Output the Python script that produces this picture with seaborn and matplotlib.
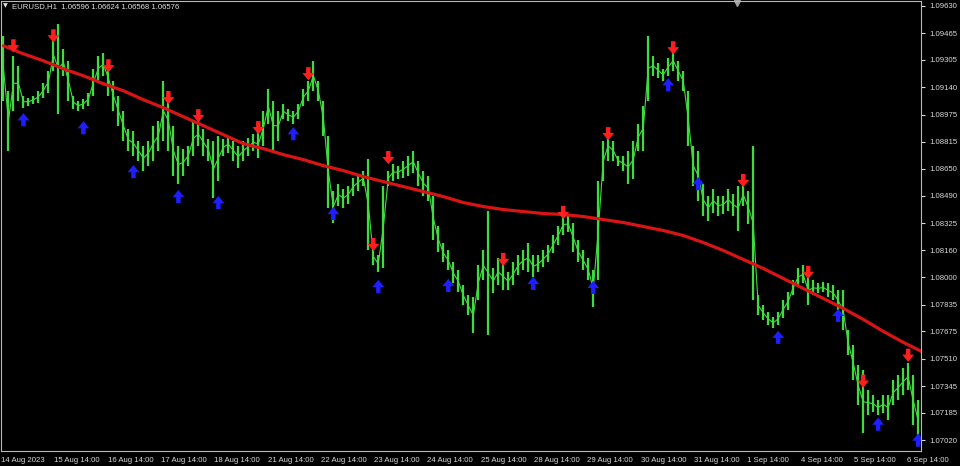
import numpy as np
import pandas as pd
import seaborn as sns
import matplotlib
matplotlib.use('Agg')
import matplotlib.pyplot as plt
from matplotlib.path import Path

# chart header
symbol_text = 'EURUSD,H1  1.06596 1.06624 1.06568 1.06576'

# bar highs / lows (one bar every ~2.25 h)
bar_high = [
    1.09450, 1.09120, 1.09330, 1.09270, 1.09090, 1.09078, 1.09090, 1.09120, 1.09168, 1.09240,
    1.09432, 1.09522, 1.09372, 1.09300, 1.09090, 1.09060, 1.09072, 1.09108, 1.09252, 1.09330,
    1.09348, 1.09300, 1.09180, 1.09090, 1.09000, 1.08892, 1.08880, 1.08820, 1.08790, 1.08820,
    1.08910, 1.08940, 1.09180, 1.09120, 1.08910, 1.08790, 1.08772, 1.08790, 1.08940, 1.08928,
    1.08892, 1.08832, 1.08820, 1.08850, 1.08832, 1.08850, 1.08820, 1.08790, 1.08820, 1.08838,
    1.08862, 1.08880, 1.09000, 1.09132, 1.09060, 1.09000, 1.09042, 1.09012, 1.09000, 1.09042,
    1.09132, 1.09180, 1.09300, 1.09180, 1.09060, 1.08850, 1.08520, 1.08562, 1.08532, 1.08550,
    1.08598, 1.08622, 1.08640, 1.08712, 1.08178, 1.08130, 1.08550, 1.08640, 1.08682, 1.08670,
    1.08700, 1.08730, 1.08760, 1.08700, 1.08640, 1.08610, 1.08490, 1.08310, 1.08202, 1.08160,
    1.08088, 1.08040, 1.07950, 1.07890, 1.07878, 1.08070, 1.08160, 1.08400, 1.08052, 1.08112,
    1.08088, 1.08028, 1.08088, 1.08130, 1.08160, 1.08202, 1.08130, 1.08130, 1.08160, 1.08190,
    1.08250, 1.08310, 1.08382, 1.08370, 1.08328, 1.08220, 1.08160, 1.08112, 1.08040, 1.08580,
    1.08820, 1.08880, 1.08820, 1.08730, 1.08730, 1.08760, 1.08820, 1.08922, 1.09030, 1.09450,
    1.09330, 1.09288, 1.09252, 1.09318, 1.09360, 1.09300, 1.09240, 1.09120, 1.08790, 1.08760,
    1.08562, 1.08490, 1.08532, 1.08490, 1.08490, 1.08532, 1.08502, 1.08550, 1.08562, 1.08520,
    1.08790, 1.07890, 1.07830, 1.07788, 1.07758, 1.07788, 1.07860, 1.07908, 1.07980, 1.08052,
    1.08070, 1.08010, 1.07980, 1.07962, 1.07968, 1.07962, 1.07950, 1.07920, 1.07920, 1.07680,
    1.07590, 1.07470, 1.07440, 1.07320, 1.07290, 1.07260, 1.07290, 1.07290, 1.07380, 1.07410,
    1.07452, 1.07482, 1.07410, 1.07260,
]
bar_low = [
    1.09060, 1.08760, 1.09000, 1.09060, 1.09018, 1.09030, 1.09042, 1.09048, 1.09078, 1.09108,
    1.09240, 1.08982, 1.09210, 1.09060, 1.09012, 1.09000, 1.09012, 1.09030, 1.09090, 1.09180,
    1.09210, 1.09090, 1.09000, 1.08910, 1.08820, 1.08760, 1.08730, 1.08700, 1.08640, 1.08670,
    1.08700, 1.08760, 1.08820, 1.08760, 1.08610, 1.08562, 1.08610, 1.08670, 1.08730, 1.08790,
    1.08730, 1.08700, 1.08478, 1.08580, 1.08730, 1.08748, 1.08700, 1.08658, 1.08700, 1.08730,
    1.08760, 1.08718, 1.08790, 1.08922, 1.08760, 1.08820, 1.08952, 1.08940, 1.08922, 1.08952,
    1.09030, 1.09060, 1.09120, 1.09060, 1.08850, 1.08418, 1.08328, 1.08430, 1.08418, 1.08442,
    1.08490, 1.08520, 1.08550, 1.08160, 1.08070, 1.08028, 1.08052, 1.08550, 1.08580, 1.08592,
    1.08598, 1.08610, 1.08628, 1.08550, 1.08490, 1.08460, 1.08220, 1.08148, 1.08088, 1.08040,
    1.07962, 1.07908, 1.07830, 1.07770, 1.07662, 1.07860, 1.07980, 1.07650, 1.07902, 1.07950,
    1.07920, 1.07920, 1.07950, 1.08010, 1.08040, 1.08028, 1.07998, 1.08028, 1.08058, 1.08088,
    1.08142, 1.08190, 1.08250, 1.08268, 1.08148, 1.08088, 1.08040, 1.07980, 1.07818, 1.07980,
    1.08580, 1.08700, 1.08700, 1.08670, 1.08640, 1.08562, 1.08592, 1.08760, 1.08760, 1.09060,
    1.09210, 1.09198, 1.09180, 1.09210, 1.09240, 1.09180, 1.09120, 1.08790, 1.08550, 1.08460,
    1.08370, 1.08340, 1.08388, 1.08370, 1.08382, 1.08400, 1.08370, 1.08280, 1.08430, 1.08322,
    1.07860, 1.07770, 1.07740, 1.07710, 1.07692, 1.07710, 1.07752, 1.07800, 1.07890, 1.07950,
    1.07962, 1.07830, 1.07890, 1.07902, 1.07908, 1.07878, 1.07860, 1.07800, 1.07680, 1.07530,
    1.07380, 1.07230, 1.07062, 1.07170, 1.07188, 1.07170, 1.07182, 1.07140, 1.07230, 1.07260,
    1.07290, 1.07320, 1.07110, 1.07020,
]

# moving average, one value every 4th bar
ma_values = [
    1.09390, 1.09342, 1.09300, 1.09252, 1.09210, 1.09162, 1.09120, 1.09066, 1.09018, 1.08964,
    1.08910, 1.08856, 1.08802, 1.08772, 1.08736, 1.08706, 1.08670, 1.08640, 1.08604, 1.08574,
    1.08544, 1.08514, 1.08484, 1.08448, 1.08424, 1.08406, 1.08394, 1.08382, 1.08376, 1.08364,
    1.08346, 1.08328, 1.08304, 1.08280, 1.08250, 1.08208, 1.08160, 1.08106, 1.08052, 1.07992,
    1.07932, 1.07872, 1.07812, 1.07746, 1.07674, 1.07608, 1.07548,
]

# signal arrows
sell_bars = [2, 10, 21, 33, 39, 51, 61, 74, 77, 100, 112, 121, 134, 148, 161, 172, 181]
sell_price = [1.09390, 1.09450, 1.09270, 1.09078, 1.08970, 1.08898, 1.09222, 1.08196, 1.08718,
              1.08106, 1.08388, 1.08862, 1.09378, 1.08580, 1.08028, 1.07374, 1.07530]
buy_bars = [4, 16, 26, 35, 43, 58, 66, 75, 89, 106, 118, 133, 139, 155, 167, 175, 183]
buy_price = [1.08946, 1.08898, 1.08634, 1.08484, 1.08448, 1.08862, 1.08382, 1.07944, 1.07950,
             1.07962, 1.07938, 1.09156, 1.08562, 1.07638, 1.07770, 1.07116, 1.07020]

date_labels = ['14 Aug 2023', '15 Aug 14:00', '16 Aug 14:00', '17 Aug 14:00', '18 Aug 14:00',
               '21 Aug 14:00', '22 Aug 14:00', '23 Aug 14:00', '24 Aug 14:00', '25 Aug 14:00',
               '28 Aug 14:00', '29 Aug 14:00', '30 Aug 14:00', '31 Aug 14:00', '1 Sep 14:00',
               '4 Sep 14:00', '5 Sep 14:00', '6 Sep 14:00']
price_ticks = ['1.09630', '1.09465', '1.09305', '1.09140', '1.08975', '1.08815', '1.08650',
               '1.08490', '1.08325', '1.08160', '1.08000', '1.07835', '1.07675', '1.07510',
               '1.07345', '1.07185', '1.07020']

bar_step = 2.25   # hours per drawn bar
label_step = 24   # hours between date labels

sns.set_theme(style='dark', rc={'axes.facecolor': 'black', 'figure.facecolor': 'black',
                                'axes.edgecolor': '#b8b8b8', 'text.color': '#d8d8d8',
                                'xtick.color': '#d8d8d8', 'ytick.color': '#d8d8d8'})
plt.rcParams['font.family'] = ['Liberation Sans', 'DejaVu Sans']

bars = pd.DataFrame({'high': bar_high, 'low': bar_low})
bars['t'] = np.arange(len(bars)) * bar_step + bar_step / 2
bars['mid'] = (bars['high'] + bars['low']) / 2

ma = pd.DataFrame({'value': ma_values})
ma['t'] = bars['t'].iloc[0] + np.arange(len(ma)) * 4 * bar_step

sells = pd.DataFrame({'t': bars['t'].iloc[sell_bars].values, 'price': sell_price})
buys = pd.DataFrame({'t': bars['t'].iloc[buy_bars].values, 'price': buy_price})

# block arrow markers
down_arrow = Path([(-0.17, 0.5), (0.17, 0.5), (0.17, 0.05), (0.45, 0.05), (0, -0.5),
                   (-0.45, 0.05), (-0.17, 0.05), (-0.17, 0.5)], closed=True)
up_arrow = Path([(-0.17, -0.5), (0.17, -0.5), (0.17, -0.05), (0.45, -0.05), (0, 0.5),
                 (-0.45, -0.05), (-0.17, -0.05), (-0.17, -0.5)], closed=True)

fig = plt.figure(figsize=(9.6, 4.66), dpi=100)
ax = fig.add_axes([0.001, 0.032, 0.958, 0.966])

green = '#3fdc3f'
ax.vlines(bars['t'], bars['low'], bars['high'], color=green, lw=1.6, zorder=2)
ax.plot(bars['t'], bars['mid'], color=green, lw=0.8, zorder=2)

sns.lineplot(data=ma, x='t', y='value', color='#d81414', lw=2.3, ax=ax, zorder=3)
sns.scatterplot(data=sells, x='t', y='price', marker=down_arrow, s=90, color='#ff1e1e',
                edgecolor='none', ax=ax, zorder=4)
sns.scatterplot(data=buys, x='t', y='price', marker=up_arrow, s=90, color='#1e1eff',
                edgecolor='none', ax=ax, zorder=4)

ax.set_xlim(0, 414)
ax.set_ylim(1.06954, 1.09660)
ax.set_xlabel('')
ax.set_ylabel('')

ax.set_xticks(np.arange(len(date_labels)) * label_step)
ax.set_xticklabels(date_labels, fontsize=5.6, ha='left')
ax.yaxis.tick_right()
ax.set_yticks([float(v) for v in price_ticks])
ax.set_yticklabels(price_ticks, fontsize=5.6, ha='left')
ax.tick_params(axis='x', length=2, pad=2, width=0.8)
ax.tick_params(axis='y', length=3, pad=3, width=0.8)
for s in ax.spines.values():
    s.set_color('#b8b8b8')
    s.set_linewidth(0.8)

# header + shift marker
fig.text(0.003, 0.987, '\u25bc', fontsize=4.5, color='#e0e0e0', va='center',
         family=['DejaVu Sans'])
fig.text(0.012, 0.987, symbol_text, fontsize=5.6, color='#e0e0e0', va='center')
ax.plot([0.80], [0.995], marker='v', ms=5, color='#a0a0a0', transform=ax.transAxes,
        clip_on=False)

fig.savefig('out.png', dpi=100, facecolor='black')
